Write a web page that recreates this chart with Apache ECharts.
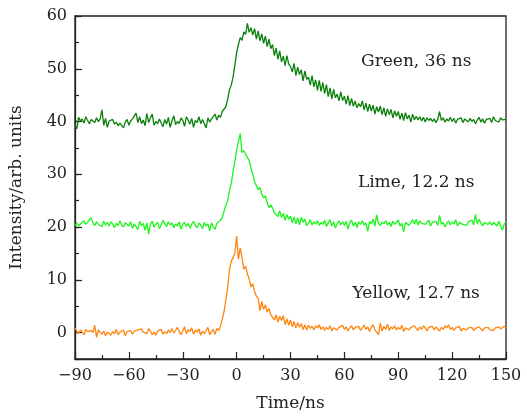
<!DOCTYPE html>
<html>
<head>
<meta charset="utf-8">
<script src="https://cdn.jsdelivr.net/npm/echarts@6/dist/echarts.min.js"></script>
<style>html,body{margin:0;padding:0;background:#fff}#c{width:527px;height:417px}</style>
</head>
<body>
<div id="c"></div>
<script>
// Time axis: -90 .. 150 ns, 1 ns step
var timeStart = -90, timeStep = 1;
var xTicks = [-90, -60, -30, 0, 30, 60, 90, 120, 150];
var yTicks = [0, 10, 20, 30, 40, 50, 60];
var seriesNames = ['Green, 36 ns', 'Lime, 12.2 ns', 'Yellow, 12.7 ns'];

var green = [
39.5,38.6,40.8,40.1,40.5,39.7,40.9,40.2,39.6,40.4,
40.3,39.8,40.7,40.0,40.5,42.2,39.3,40.6,38.9,40.1,
39.8,40.4,39.5,39.9,39.2,39.7,40.0,38.8,39.9,40.4,
39.3,40.1,40.5,40.2,41.6,39.8,40.9,39.6,40.3,39.2,
41.5,39.8,40.7,41.4,39.3,40.0,39.6,40.5,40.2,39.0,
40.4,39.5,40.8,38.9,40.1,41.1,39.4,40.0,39.6,40.7,
40.2,39.1,40.9,40.3,39.5,40.6,38.9,40.2,39.8,40.9,
39.6,40.4,40.1,38.8,40.7,39.9,40.5,40.2,41.4,40.3,
41.2,40.8,41.9,42.1,42.8,44.2,46.0,46.9,48.4,50.6,
53.0,54.6,55.9,55.4,57.0,56.5,58.6,56.9,57.8,56.4,
57.6,55.6,57.2,55.3,56.6,54.8,56.2,54.2,55.6,53.8,
54.6,52.5,53.9,51.8,53.4,51.3,52.4,50.6,52.5,50.9,
50.4,49.4,51.0,48.7,50.3,48.9,49.8,47.7,49.6,48.0,
48.4,46.9,48.7,46.6,47.9,45.9,47.8,45.7,47.4,45.3,
47.0,44.7,46.4,44.3,46.1,44.5,45.2,43.9,45.6,44.0,
44.8,43.3,44.9,43.0,44.4,42.9,43.9,42.6,43.4,42.8,
43.9,42.2,43.5,41.9,43.3,42.0,43.1,41.4,42.8,41.8,
42.9,41.3,42.6,41.0,42.4,41.3,42.3,40.7,42.0,41.0,
41.9,40.4,41.6,40.2,41.7,40.5,41.2,39.9,41.4,40.3,
41.0,40.3,40.9,40.1,40.8,39.9,40.7,40.2,40.6,40.0,
40.5,39.8,40.4,41.9,40.2,40.7,39.9,40.5,40.1,40.8,
40.0,40.6,39.7,40.4,40.1,40.7,39.8,40.5,40.2,39.9,
40.6,40.0,40.4,39.6,40.3,40.8,39.9,40.5,39.7,40.4,
40.1,40.6,39.8,40.9,40.2,40.5,39.9,40.7,40.3,40.6,
40.4
];

var lime = [
20.3,20.8,20.2,20.6,20.4,21.2,20.5,20.9,20.6,21.8,
20.7,20.3,21.0,20.5,20.8,20.1,21.1,20.4,20.9,20.2,
21.0,20.6,19.9,20.7,20.3,21.2,20.4,20.0,20.8,20.5,
20.2,21.0,19.8,20.6,20.9,19.5,21.1,20.3,20.7,19.4,
20.8,18.7,20.6,21.1,20.0,20.5,20.9,19.7,20.4,21.3,
20.6,20.1,21.0,20.4,20.8,19.9,20.6,20.2,21.0,19.6,
20.5,20.9,20.1,20.7,19.8,20.6,21.1,20.3,19.9,20.8,
20.4,19.7,20.9,20.2,20.6,19.3,20.8,20.0,19.6,20.7,
20.5,21.3,21.8,23.0,24.2,25.0,26.8,28.3,30.5,32.4,
34.6,36.2,37.7,34.1,34.5,33.8,34.0,32.6,31.2,30.0,
28.6,28.9,27.1,27.5,26.2,25.5,25.9,24.6,23.7,24.2,
23.6,22.7,22.9,22.0,23.1,21.8,22.6,21.3,22.4,21.5,
22.1,20.8,21.9,20.6,21.8,20.4,21.9,20.9,21.5,20.3,
20.7,21.4,20.4,21.0,20.6,21.2,20.3,20.9,20.5,21.3,
20.1,20.8,21.4,20.2,21.0,19.8,20.7,21.2,20.4,21.0,
20.3,21.1,19.6,20.8,21.3,20.2,20.9,19.9,21.0,20.5,
21.2,20.4,20.8,19.2,21.1,20.6,21.5,20.2,22.3,20.7,
20.3,21.0,20.6,21.2,20.4,20.9,20.1,21.1,20.5,20.8,
21.3,20.2,20.7,19.1,20.9,21.0,20.3,20.8,21.4,20.6,
21.5,20.4,21.2,20.7,21.0,20.5,20.8,21.3,20.2,20.9,
20.6,21.1,20.3,22.2,20.5,20.9,20.0,20.7,21.2,20.4,
21.0,20.6,21.4,20.2,20.9,21.1,20.5,20.8,20.3,21.0,
20.7,21.3,20.4,22.4,20.6,21.5,20.8,20.2,20.9,21.2,
20.5,21.0,20.3,20.9,20.6,20.2,21.1,20.8,19.4,20.6,
20.9
];

var yellow = [
0.9,0.3,-0.2,0.5,0.1,-0.4,0.6,0.2,-0.1,0.4,
0.0,1.4,-0.9,0.5,0.2,-0.3,0.3,-0.6,0.1,0.4,
-0.5,0.2,-0.2,0.6,-0.4,0.1,-0.1,0.5,-0.6,0.2,
0.1,0.4,-0.3,0.3,0.0,0.5,0.2,0.7,0.1,0.4,
-0.2,0.8,0.3,-0.4,0.1,-0.5,0.3,0.1,0.6,-0.3,
0.2,-0.2,0.5,0.0,0.8,-0.1,0.4,1.0,0.2,-0.4,
0.3,1.1,-0.2,0.6,0.2,0.9,-0.3,0.5,0.1,0.7,
-0.5,0.3,-0.2,0.4,1.0,-0.4,0.2,0.6,-0.3,0.8,
0.4,1.2,1.5,4.0,6.2,8.4,12.0,13.5,13.8,15.0,
18.3,13.9,16.0,14.2,12.0,12.6,11.1,10.2,8.6,9.3,
7.8,6.9,6.5,4.1,5.9,4.4,5.3,3.9,4.6,3.4,
3.7,2.4,3.4,2.0,3.1,2.3,3.2,1.5,2.6,1.4,
2.4,1.1,2.1,0.9,1.9,1.0,1.7,0.6,1.5,0.5,
1.4,0.8,1.2,0.5,1.3,0.9,1.5,0.6,1.1,0.4,
1.0,0.6,1.3,0.3,0.9,1.2,0.5,1.0,0.7,1.4,
0.6,1.1,0.3,0.9,1.3,0.5,1.0,0.7,1.2,0.4,
0.9,1.4,0.6,1.1,0.2,1.0,1.5,0.5,0.8,-0.4,
1.8,0.3,1.2,0.6,1.6,0.4,1.1,0.7,1.3,0.5,
1.0,0.6,1.4,0.2,0.9,1.2,0.5,1.0,0.7,1.3,
0.8,0.4,1.1,0.6,1.3,0.9,0.3,1.0,0.7,1.2,
0.5,1.1,0.8,0.3,1.0,0.6,1.3,0.9,1.5,0.6,
1.0,0.4,0.9,0.6,1.2,0.3,0.8,1.1,0.5,0.9,
0.6,1.0,0.4,0.8,0.5,1.1,0.7,0.3,0.9,0.6,
1.0,0.5,0.8,0.4,0.9,0.6,1.1,0.7,0.5,1.2,
0.9
];

var colors = ['#0a800a', '#1cf51c', '#ff8510'];
var labelPos = [[100, 51.4], [100, 28.5], [100, 7.4]];

function pairs(arr) {
  return arr.map(function (v, i) { return [timeStart + i * timeStep, v]; });
}

var FONT = 'DejaVu Serif';
var chart = echarts.init(document.getElementById('c'), null, { renderer: 'canvas' });
var data = [green, lime, yellow];

var option = {
  animation: false,
  backgroundColor: '#fff',
  grid: { left: 75, right: 21, top: 16, bottom: 54, show: true, borderColor: '#222', borderWidth: 1.3, backgroundColor: 'transparent' },
  xAxis: {
    type: 'value', min: xTicks[0], max: xTicks[xTicks.length - 1], interval: 30,
    name: 'Time/ns', nameLocation: 'middle', nameGap: 36,
    nameTextStyle: { fontFamily: FONT, fontSize: 17, color: '#222' },
    axisLine: { show: true, onZero: false, lineStyle: { color: '#222', width: 1.3 } },
    axisTick: { show: true, inside: true, length: 7, lineStyle: { color: '#222', width: 1.2 } },
    minorTick: { show: true, splitNumber: 2, length: 4, lineStyle: { color: '#222', width: 1.2 } },
    axisLabel: { fontFamily: FONT, fontSize: 16, color: '#222', margin: 9,
      formatter: function (v) { return v < 0 ? '\u2212' + Math.abs(v) : String(v); } },
    splitLine: { show: false }
  },
  yAxis: [{
    type: 'value', min: -5, max: 60, interval: 5,
    name: 'Intensity/arb. units', nameLocation: 'middle', nameGap: 50,
    nameTextStyle: { fontFamily: FONT, fontSize: 17, color: '#222' },
    axisLine: { show: true, onZero: false, lineStyle: { color: '#222', width: 1.3 } },
    axisTick: { show: true, inside: true, length: 7, customValues: yTicks, lineStyle: { color: '#222', width: 1.2 } },
    axisLabel: { fontFamily: FONT, fontSize: 16, color: '#222', margin: 8, customValues: yTicks },
    splitLine: { show: false }
  }, {
    type: 'value', min: -5, max: 60, interval: 5, position: 'left', offset: 0,
    axisLine: { show: false, onZero: false },
    axisTick: { show: true, inside: true, length: 4, lineStyle: { color: '#222', width: 1.2 } },
    axisLabel: { show: false },
    splitLine: { show: false }
  }],
  series: data.map(function (arr, k) {
    return {
      name: seriesNames[k], type: 'line', yAxisIndex: 0, data: pairs(arr),
      showSymbol: false, symbol: 'none', lineStyle: { color: colors[k], width: 1.3 },
      itemStyle: { color: colors[k] }
    };
  })
};
chart.setOption(option);

var g = labelPos.map(function (p, k) {
  var px = chart.convertToPixel({ xAxisIndex: 0, yAxisIndex: 0 }, p);
  return { type: 'text', x: px[0], y: px[1],
    style: { text: seriesNames[k], fontFamily: FONT, fontSize: 17, fill: '#222', align: 'center', verticalAlign: 'middle' } };
});
chart.setOption({ graphic: g });
</script>
</body>
</html>
